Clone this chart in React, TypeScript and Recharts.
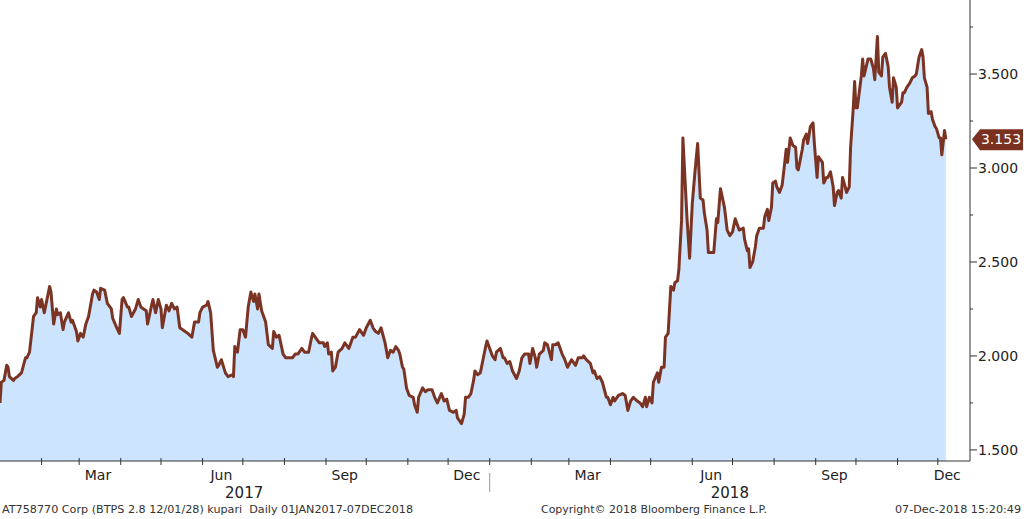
import { AreaChart, Area, XAxis, YAxis, ReferenceLine } from 'recharts';

// days since 01JAN2017 and BTPS 2.8 12/01/28 yield
const DAYS = [
  0, 1, 3, 5, 6, 7, 10, 11, 13, 16, 19, 20, 22, 25, 27, 28, 30, 31, 33, 35, 37, 38, 40, 42, 43, 45, 47, 48, 51, 53,
  54, 57, 58, 60, 62, 64, 66, 69, 70, 72, 74, 75, 78, 80, 83, 84, 87, 89, 91, 92, 95, 96, 98, 101, 103, 105, 107, 109, 110, 113,
  114, 116, 118, 120, 121, 124, 126, 128, 130, 132, 134, 138, 140, 143, 145, 148, 149, 151, 154, 155, 157, 159, 162, 163, 165, 168, 170, 173, 174, 175,
  177, 179, 181, 183, 185, 187, 189, 190, 192, 193, 195, 198, 199, 200, 203, 204, 206, 208, 211, 213, 215, 218, 220, 222, 225, 227, 230, 232, 233, 236,
  238, 241, 242, 244, 245, 247, 248, 250, 252, 255, 257, 260, 263, 265, 268, 271, 273, 276, 278, 280, 282, 284, 287, 289, 291, 293, 295, 297, 298, 300,
  301, 303, 305, 308, 309, 311, 312, 315, 317, 319, 322, 324, 326, 329, 331, 333, 335, 338, 340, 341, 344, 346, 347, 349, 351, 353, 354, 356, 358, 360,
  362, 363, 365, 367, 369, 370, 373, 375, 376, 378, 380, 382, 385, 387, 389, 391, 394, 395, 397, 399, 400, 402, 405, 406, 408, 411, 412, 414, 416, 419,
  421, 423, 426, 429, 431, 434, 435, 437, 440, 442, 443, 445, 447, 449, 452, 453, 455, 457, 458, 461, 464, 466, 468, 470, 472, 475, 477, 479, 481, 482,
  484, 486, 487, 490, 491, 493, 495, 496, 498, 500, 502, 503, 505, 506, 508, 509, 511, 512, 514, 516, 518, 520, 522, 524, 525, 527, 528, 531, 532, 534,
  535, 537, 540, 542, 544, 546, 548, 549, 551, 554, 555, 557, 558, 559, 561, 563, 564, 566, 569, 570, 572, 573, 575, 576, 578, 579, 581, 583, 584, 586,
  587, 589, 591, 593, 594, 595, 598, 599, 601, 602, 604, 606, 607, 609, 610, 613, 614, 616, 617, 619, 621, 622, 624, 625, 627, 628, 630, 631, 633, 634,
  636, 637, 638, 639, 642, 643, 644, 645, 647, 649, 651, 652, 653, 654, 655, 657, 658, 660, 662, 663, 665, 666, 668, 669, 672, 673, 674, 676, 678, 680,
  682, 683, 685, 687, 688, 689, 691, 692, 694, 695, 697, 698, 700, 701, 702, 704, 705,
];

const YIELDS = [
  1.75, 1.86, 1.87, 1.95, 1.94, 1.89, 1.87, 1.88, 1.89, 1.91, 1.99, 1.99, 2.02, 2.21, 2.23, 2.31, 2.26, 2.3, 2.23, 2.3, 2.37, 2.34, 2.17, 2.25, 2.22, 2.23, 2.14, 2.18, 2.23, 2.18,
  2.19, 2.13, 2.08, 2.12, 2.1, 2.17, 2.21, 2.33, 2.35, 2.34, 2.3, 2.36, 2.35, 2.28, 2.25, 2.2, 2.15, 2.12, 2.3, 2.31, 2.26, 2.26, 2.21, 2.25, 2.3, 2.26, 2.25, 2.24, 2.17, 2.27,
  2.3, 2.23, 2.3, 2.25, 2.15, 2.27, 2.24, 2.28, 2.25, 2.26, 2.15, 2.13, 2.12, 2.1, 2.18, 2.18, 2.23, 2.26, 2.27, 2.29, 2.23, 2.03, 1.94, 1.95, 1.98, 1.91, 1.89, 1.9, 1.89, 2.05,
  2.02, 2.14, 2.14, 2.1, 2.26, 2.34, 2.29, 2.33, 2.25, 2.33, 2.24, 2.18, 2.12, 2.06, 2.04, 2.13, 2.1, 2.11, 2.01, 1.99, 1.99, 1.99, 2.01, 2.01, 2.04, 2.02, 2.02, 2.09, 2.12, 2.09,
  2.07, 2.07, 2.05, 2.07, 2.01, 2.02, 1.92, 1.94, 2.02, 2.04, 2.07, 2.04, 2.1, 2.1, 2.14, 2.11, 2.15, 2.19, 2.15, 2.13, 2.12, 2.15, 2.07, 1.99, 2.03, 2.02, 2.05, 2.03, 2.01, 1.94,
  1.93, 1.83, 1.79, 1.78, 1.74, 1.7, 1.78, 1.83, 1.81, 1.82, 1.82, 1.78, 1.75, 1.8, 1.76, 1.77, 1.71, 1.7, 1.71, 1.67, 1.64, 1.69, 1.78, 1.78, 1.8, 1.87, 1.92, 1.9, 1.91, 1.98,
  2.05, 2.08, 2.04, 2.0, 1.98, 2.02, 2.04, 1.99, 1.99, 1.96, 1.97, 1.92, 1.88, 1.92, 1.99, 2.01, 2.01, 1.96, 2.04, 1.99, 1.94, 2.01, 2.03, 2.07, 2.06, 1.98, 2.06, 2.06, 2.07, 2.01,
  1.98, 1.94, 1.98, 1.95, 1.99, 1.99, 2.0, 1.98, 1.96, 1.91, 1.92, 1.88, 1.89, 1.86, 1.78, 1.78, 1.74, 1.78, 1.76, 1.79, 1.8, 1.79, 1.71, 1.76, 1.78, 1.76, 1.75, 1.73, 1.78, 1.73,
  1.78, 1.75, 1.86, 1.91, 1.86, 1.94, 1.94, 2.1, 2.12, 2.37, 2.35, 2.39, 2.4, 2.46, 2.72, 3.16, 2.88, 2.74, 2.52, 2.81, 2.98, 3.13, 2.84, 2.83, 2.76, 2.67, 2.55, 2.55, 2.55, 2.73,
  2.71, 2.89, 2.79, 2.67, 2.64, 2.66, 2.73, 2.71, 2.67, 2.68, 2.62, 2.56, 2.57, 2.47, 2.5, 2.58, 2.64, 2.68, 2.68, 2.74, 2.78, 2.72, 2.79, 2.92, 2.93, 2.9, 2.87, 2.91, 2.97, 3.1,
  3.03, 3.16, 3.12, 3.11, 3.0, 2.99, 3.1, 3.15, 3.18, 3.13, 3.22, 3.24, 3.13, 2.95, 3.06, 3.03, 2.92, 2.95, 2.95, 2.98, 2.9, 2.8, 2.87, 2.88, 2.84, 2.95, 2.9, 2.87, 2.9, 3.11,
  3.32, 3.46, 3.32, 3.32, 3.49, 3.58, 3.49, 3.52, 3.58, 3.58, 3.53, 3.47, 3.58, 3.7, 3.51, 3.49, 3.59, 3.61, 3.54, 3.43, 3.35, 3.48, 3.43, 3.32, 3.35, 3.4, 3.4, 3.43, 3.45, 3.48,
  3.49, 3.5, 3.59, 3.63, 3.59, 3.48, 3.43, 3.29, 3.3, 3.26, 3.22, 3.21, 3.16, 3.16, 3.07, 3.2, 3.153,
];

const LAST_VALUE = 3.153;

const MONTH_STARTS = [31, 59, 90, 120, 151, 181, 212, 243, 273, 304, 334, 365, 396, 424, 455, 485, 516, 546, 577, 608, 638, 669, 699];
const MONTH_LABEL_DAYS = [73, 165, 257, 348, 438, 530, 622, 706];
const MONTH_LABEL_TEXT = ['Mar', 'Jun', 'Sep', 'Dec', 'Mar', 'Jun', 'Sep', 'Dec'];
const YEAR_LABEL_DAYS = [182, 544];
const YEAR_LABEL_TEXT = ['2017', '2018'];
const YEAR_BREAK = 365;

const Y_TICKS = [1.5, 1.75, 2.0, 2.25, 2.5, 2.75, 3.0, 3.25, 3.5, 3.75];

const LINE = '#7b3424';
const FILL = '#cce4fd';
const FONT = '"DejaVu Sans", Verdana, sans-serif';

const XTick = ({ x, y, payload }: any) => {
  const v = payload.value;
  const mi = MONTH_LABEL_DAYS.indexOf(v);
  if (mi >= 0) {
    return (
      <text x={x} y={y + 19} textAnchor="middle" fontSize={14} fill="#222" fontFamily={FONT}>
        {MONTH_LABEL_TEXT[mi]}
      </text>
    );
  }
  const yi = YEAR_LABEL_DAYS.indexOf(v);
  if (yi >= 0) {
    return (
      <text x={x} y={y + 37} textAnchor="middle" fontSize={15} fill="#222" fontFamily={FONT}>
        {YEAR_LABEL_TEXT[yi]}
      </text>
    );
  }
  return (
    <g>
      <line x1={x} x2={x} y1={y - 3} y2={y + 4} stroke="#333" />
      {v === YEAR_BREAK && <line x1={x} x2={x} y1={y + 12} y2={y + 31} stroke="#999" />}
    </g>
  );
};

const YTick = ({ x, y, payload }: any) => {
  const v = payload.value;
  const major = Math.abs(v * 2 - Math.round(v * 2)) < 1e-6;
  return (
    <g>
      <line x1={x} x2={x + (major ? 7 : 3)} y1={y} y2={y} stroke="#333" />
      {major && (
        <text x={x + 8} y={y + 5} fontSize={14} fill="#222" fontFamily={FONT}>
          {v.toFixed(3)}
        </text>
      )}
    </g>
  );
};

const LastTag = (props: any) => {
  const vb = props.viewBox || {};
  const x = vb.x + vb.width;
  const y = vb.y;
  return (
    <g>
      <polygon
        points={`${x + 2},${y} ${x + 10},${y - 10} ${x + 53},${y - 10} ${x + 53},${y + 11} ${x + 10},${y + 11}`}
        fill="#7a3120"
      />
      <text x={x + 31} y={y + 5} textAnchor="middle" fontSize={14} fill="#fff" fontFamily={FONT}>
        {LAST_VALUE.toFixed(3)}
      </text>
    </g>
  );
};

export default function App() {
  const data = DAYS.map((d, i) => ({ day: d, value: YIELDS[i] }));
  const xTicks = [...MONTH_STARTS, ...MONTH_LABEL_DAYS, ...YEAR_LABEL_DAYS].sort((a, b) => a - b);

  return (
    <div style={{ position: 'relative', width: 1024, height: 519, background: '#fff', fontFamily: FONT }}>
      <style>{'body{margin:0}'}</style>
      <AreaChart width={1024} height={519} data={data} margin={{ top: 0, right: 0, bottom: 0, left: 0 }}>
        <XAxis
          dataKey="day"
          type="number"
          domain={[0, 723]}
          ticks={xTicks}
          interval={0}
          height={58}
          tickSize={0}
          tickMargin={0}
          tick={<XTick />}
          axisLine={{ stroke: '#333' }}
          allowDataOverflow
        />
        <YAxis
          orientation="right"
          domain={[1.441, 3.894]}
          ticks={Y_TICKS}
          width={54}
          tickSize={0}
          tickMargin={0}
          tick={<YTick />}
          axisLine={{ stroke: '#333' }}
          allowDataOverflow
        />
        <Area
          type="linear"
          dataKey="value"
          stroke={LINE}
          strokeWidth={3}
          strokeLinejoin="round"
          fill={FILL}
          fillOpacity={1}
          isAnimationActive={false}
          dot={false}
          activeDot={false}
        />
        <ReferenceLine y={LAST_VALUE} stroke="none" label={<LastTag />} />
      </AreaChart>
      <svg width={1024} height={519} style={{ position: 'absolute', left: 0, top: 0, pointerEvents: 'none' }}>
        <text x={2} y={513} fontSize={11} fill="#333" fontFamily={FONT} textLength={411} lengthAdjust="spacingAndGlyphs" style={{ whiteSpace: 'pre' }}>
          {'AT758770 Corp (BTPS 2.8 12/01/28) kupari  Daily 01JAN2017-07DEC2018'}
        </text>
        <text x={541} y={513} fontSize={11} fill="#333" fontFamily={FONT} textLength={226} lengthAdjust="spacingAndGlyphs">
          Copyright© 2018 Bloomberg Finance L.P.
        </text>
        <text x={895} y={513} fontSize={11} fill="#333" fontFamily={FONT} textLength={126} lengthAdjust="spacingAndGlyphs">
          07-Dec-2018 15:20:49
        </text>
      </svg>
    </div>
  );
}
